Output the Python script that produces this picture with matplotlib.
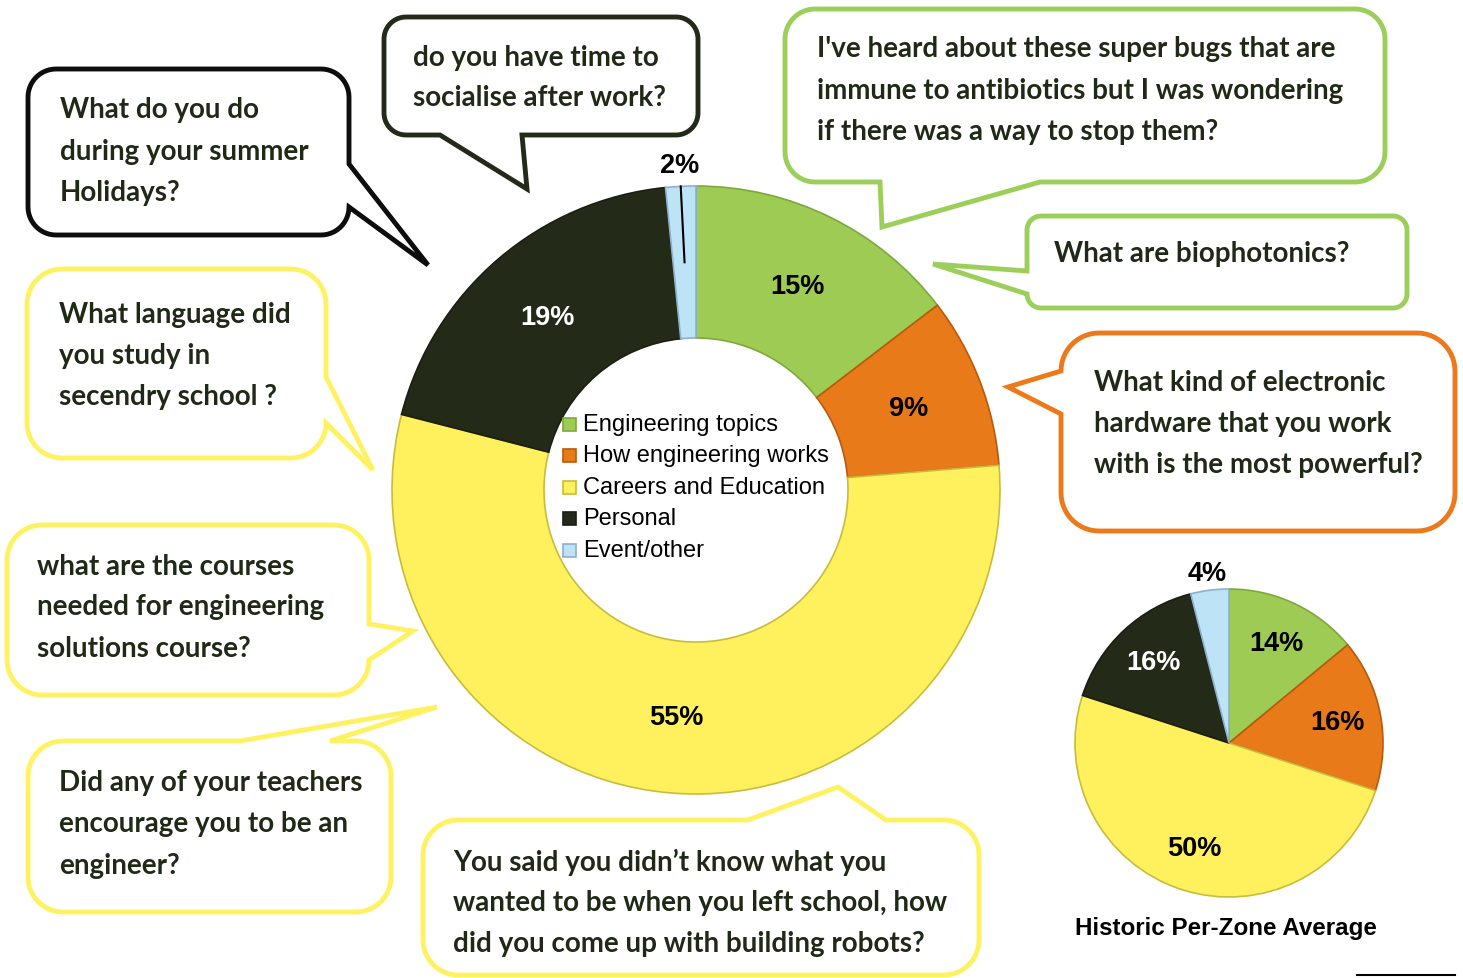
import numpy as np
import matplotlib.pyplot as plt
from matplotlib.patches import Polygon, Rectangle

# --- data ---
categories = ['Engineering topics', 'How engineering works', 'Careers and Education',
              'Personal', 'Event/other']
zone_pct = [14.6, 9.1, 55.3, 19.4, 1.6]   # this zone
historic_pct = [14, 16, 50, 16, 4]        # historic per-zone average
colors = ['#9DCB54', '#E97A19', '#FFF05E', '#232A18', '#BDE3F6']
edges = ['#7EA83C', '#B85A0C', '#C9BC3A', '#1A1F10', '#8FB0CC']
label_colors = ['black', 'black', 'black', 'white', 'black']

W, H = 1463, 979
TXT = '#1F2A16'
FONT = 'Lato'

fig = plt.figure(figsize=(W / 100, H / 100), dpi=100)
ax = fig.add_axes([0, 0, 1, 1])


def fix_pie(wedges, texts, outer_idx, r_out, cx, cy, R, leader=False):
    for w, ec in zip(wedges, edges):
        w.set_edgecolor(ec)
        w.set_linewidth(1.2)
    for t, c in zip(texts, label_colors):
        t.set_color(c)
        t.set_fontweight('bold')
        t.set_fontfamily('Liberation Sans')
        t.set_fontsize(19.5)
    w = wedges[outer_idx]
    th = np.radians((w.theta1 + w.theta2) / 2)
    texts[outer_idx].set_position((cx + r_out * R * np.cos(th), cy + r_out * R * np.sin(th)))
    if leader:
        ax.plot([cx + 0.75 * R * np.cos(th), cx + 1.0 * R * np.cos(th)],
                [cy + 0.75 * R * np.sin(th), cy + 1.0 * R * np.sin(th)],
                color='black', lw=1.5, zorder=5)


# main donut (axis is flipped later, so counterclock in data = clockwise on screen)
cx, cy, R = 696, 491, 304
wedges, _, texts = ax.pie(zone_pct, colors=colors, center=(cx, cy), radius=R,
                          startangle=-90, counterclock=True, autopct='%.0f%%',
                          pctdistance=0.75, wedgeprops=dict(width=R / 2))
fix_pie(wedges, texts, 4, 1.07, cx, cy, R, leader=True)

# small historic pie
hx, hy, hr = 1229, 744, 154
wedges2, _, texts2 = ax.pie(historic_pct, colors=colors, center=(hx, hy), radius=hr,
                            startangle=-90, counterclock=True, autopct='%.0f%%',
                            pctdistance=0.72)
fix_pie(wedges2, texts2, 4, 1.11, hx, hy, hr)
ax.text(1226, 929, 'Historic Per-Zone Average', ha='center', va='center',
        fontsize=17.4, fontweight='bold', family='Liberation Sans')

# legend in donut hole
for i, (cat, c, ec) in enumerate(zip(categories, colors, edges)):
    y = 425 + i * 31.5
    ax.add_patch(Rectangle((563, y - 6.5), 13, 13, fc=c, ec=ec, lw=1.2, zorder=4))
    ax.text(583, y, cat, ha='left', va='center', fontsize=17, family='Liberation Sans', zorder=4)


def bubble(box, r, side, a, b, tip, color, lines, tx, ty, lw=3.5):
    x0, y0, x1, y1 = box

    def arc(ax_, ay_, t0, t1):
        t = np.radians(np.linspace(t0, t1, 14))
        return list(zip(ax_ + r * np.cos(t), ay_ + r * np.sin(t)))

    pts = [(x0 + r, y0)]
    if side == 'top':
        pts += [(a, y0), tip, (b, y0)]
    pts.append((x1 - r, y0))
    pts += arc(x1 - r, y0 + r, -90, 0)
    if side == 'right':
        pts += [(x1, a), tip, (x1, b)]
    pts += arc(x1 - r, y1 - r, 0, 90)
    if side == 'bottom':
        pts += [(b, y1), tip, (a, y1)]
    pts += arc(x0 + r, y1 - r, 90, 180)
    if side == 'left':
        pts += [(x0, b), tip, (x0, a)]
    pts += arc(x0 + r, y0 + r, 180, 270)
    ax.add_patch(Polygon(pts, closed=True, fc='white', ec=color, lw=lw,
                         joinstyle='miter', zorder=6))
    for line, y in zip(lines, ty):
        ax.text(tx, y, line, ha='left', va='center', fontsize=20, fontweight='bold',
                family=FONT, color=TXT, zorder=7)


bubble((28, 70, 349, 236), 28, 'right', 165, 208, (428, 266), '#0D0D0D',
       ['What do you do', 'during your summer', 'Holidays?'], 60, [110, 152, 193])
bubble((384, 18, 698, 136), 22, 'bottom', 440, 522, (527, 190), '#242A1A',
       ['do you have time to', 'socialise after work?'], 413, [58, 98])
bubble((785, 10, 1385, 183), 30, 'bottom', 880, 1040, (882, 228), '#9CCF5A',
       ["I've heard about these super bugs that are",
        'immune to antibiotics but I was wondering',
        'if there was a way to stop them?'], 817, [49, 91, 132])
bubble((1027, 217, 1407, 309), 14, 'left', 272, 295, (933, 265), '#9CCF5A',
       ['What are biophotonics?'], 1054, [254])
bubble((1061, 334, 1455, 532), 38, 'left', 372, 415, (1008, 388), '#EC7A1C',
       ['What kind of electronic', 'hardware that you work', 'with is the most powerful?'],
       1094, [383, 424, 465])
bubble((27, 270, 326, 459), 35, 'right', 378, 424, (373, 471), '#FFF262',
       ['What language did', 'you study in', 'secendry school ?'], 59, [315, 356, 397])
bubble((7, 526, 369, 696), 35, 'right', 625, 661, (413, 632), '#FFF262',
       ['what are the courses', 'needed for engineering', 'solutions course?'],
       37, [567, 607, 649])
bubble((28, 742, 391, 913), 35, 'top', 240, 330, (437, 708), '#FFF262',
       ['Did any of your teachers', 'encourage you to be an', 'engineer?'],
       59, [783, 824, 866])
bubble((423, 821, 979, 976), 35, 'top', 748, 886, (838, 788), '#FFF262',
       ['You said you didn\u2019t know what you', 'wanted to be when you left school, how',
        'did you come up with building robots?'], 453, [862, 903, 944])

ax.plot([1357, 1455], [976, 976], color='black', lw=1.5)

ax.set_xlim(0, W)
ax.set_ylim(H, 0)
ax.set_aspect('equal')
ax.axis('off')
fig.savefig('out.png', dpi=100)
